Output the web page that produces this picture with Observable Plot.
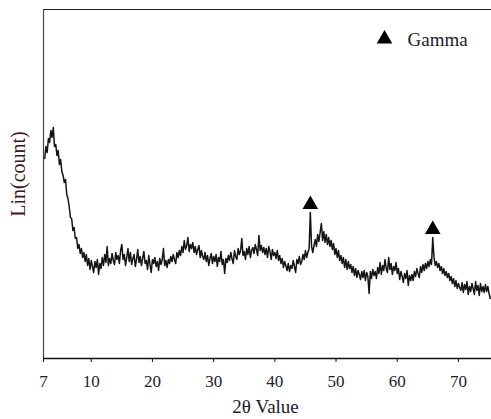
<!DOCTYPE html>
<html>
<head>
<meta charset="utf-8">
<script src="https://cdn.jsdelivr.net/npm/d3@7"></script>
<script src="https://cdn.jsdelivr.net/npm/@observablehq/plot@0.6"></script>
<style>
  html, body { margin: 0; padding: 0; background: #fff; }
  #chart svg, #chart svg text { font-family: "Liberation Serif", "Times New Roman", serif !important; }
</style>
</head>
<body>
<div id="chart"></div>
<script>
// XRD scan: start angle and step of the 2θ grid (degrees)
const scanStart = 2.4;
const scanStep = 0.2;

// Measured intensity (arbitrary Lin counts), one value per step; 10 steps = 2° per row
const counts = [
  200, 212, 206, 220, 216, 228, 221, 231, 212, 214,
  203, 208, 194, 199, 187, 183, 176, 179, 164, 160,
  152, 141, 140, 128, 131, 120, 121, 110, 114, 105,
  110, 101, 106, 97, 104, 93, 100, 89, 98, 92,
  86, 97, 91, 99, 84, 95, 90, 101, 93, 104,
  96, 112, 93, 100, 95, 105, 98, 94, 106, 99,
  103, 95, 108, 114, 99, 104, 93, 101, 110, 97,
  106, 94, 100, 104, 92, 99, 109, 96, 102, 93,
  100, 107, 95, 98, 89, 103, 94, 86, 99, 95,
  101, 92, 97, 88, 100, 94, 99, 110, 93, 98,
  91, 99, 95, 102, 97, 104, 99, 95, 106, 101,
  108, 103, 112, 106, 118, 109, 113, 121, 107, 114,
  110, 116, 106, 112, 104, 109, 113, 101, 108, 102,
  99, 106, 97, 103, 93, 100, 105, 95, 102, 97,
  104, 92, 101, 97, 107, 94, 99, 85, 100, 96,
  103, 98, 106, 100, 95, 108, 102, 99, 110, 104,
  108, 120, 103, 107, 99, 110, 104, 112, 101, 108,
  111, 105, 114, 109, 103, 123, 108, 113, 106, 111,
  104, 110, 101, 112, 107, 99, 109, 103, 106, 100,
  108, 98, 103, 95, 100, 91, 97, 93, 88, 95,
  87, 93, 90, 98, 92, 86, 99, 95, 102, 94,
  97, 104, 99, 108, 101, 106, 110, 146, 112, 106,
  113, 119, 112, 124, 117, 126, 135, 118, 127, 116,
  124, 114, 121, 112, 118, 109, 115, 104, 110, 101,
  108, 98, 103, 95, 101, 91, 99, 89, 97, 90,
  94, 86, 92, 83, 90, 81, 88, 84, 79, 87,
  81, 88, 78, 86, 82, 65, 87, 80, 89, 83,
  87, 80, 91, 85, 96, 84, 93, 88, 99, 90,
  86, 101, 89, 95, 84, 92, 88, 96, 85, 90,
  79, 87, 82, 76, 85, 80, 88, 73, 83, 78,
  84, 78, 87, 82, 90, 85, 81, 92, 86, 94,
  88, 95, 90, 97, 92, 99, 94, 121, 101, 93,
  97, 91, 95, 88, 92, 85, 90, 83, 87, 81,
  85, 78, 82, 75, 80, 72, 78, 70, 75, 71,
  68, 76, 66, 74, 69, 77, 64, 72, 67, 75,
  70, 64, 77, 68, 73, 63, 75, 67, 72, 66,
  74, 67, 72, 65, 60
];

// Gamma phase reflections (2θ)
const gammaPeakAngles = [45.8, 65.8];
const legendLabel = "Gamma";

// Axis setup
const xDomain = [2.2, 75.4];
const yDomain = [0, 349];
const xTicks = [10, 20, 30, 40, 50, 60, 70];
const xOriginLabel = "7";
const xLabel = "2θ Value";
const yLabel = "Lin(count)";

const scan = counts.map((c, i) => ({ angle: +(scanStart + i * scanStep).toFixed(2), count: c }));
const peaks = gammaPeakAngles.map(a => scan.find(d => Math.abs(d.angle - a) < 1e-6));

const ink = "#141414";
const serif = "Liberation Serif";

const chart = Plot.plot({
  width: 491,
  height: 419,
  marginLeft: 43,
  marginRight: 0,
  marginTop: 9,
  marginBottom: 61,
  style: "font-family: 'Liberation Serif', serif; background: #fff; color: #141414;",
  x: { domain: xDomain },
  y: { domain: yDomain, axis: null },
  marks: [
    Plot.line(scan, { x: "angle", y: "count", stroke: ink, strokeWidth: 1.5 }),
    Plot.ruleY([yDomain[1]], { stroke: "#222", strokeWidth: 1 }),
    Plot.ruleX([xDomain[0]], { stroke: "#444", strokeWidth: 1.2 }),
    Plot.ruleY([yDomain[0]], { stroke: "#111", strokeWidth: 1.5 }),
    Plot.axisX([xDomain[0], ...xTicks], {
      anchor: "bottom",
      tickSize: 4,
      tickPadding: 12,
      fontSize: 17,
      fontFamily: serif,
      fill: "#1c1c2a",
      label: null,
      tickFormat: d => (d === xDomain[0] ? xOriginLabel : String(d))
    }),
    // peak markers, above each reflection
    Plot.dot(peaks, { x: "angle", y: "count", dy: -8, symbol: "triangle", r: 5.8, fill: "#000", stroke: "none" }),
    // legend
    Plot.dot([legendLabel], { frameAnchor: "top-right", dx: -107, dy: 29.5, symbol: "triangle", r: 5.8, fill: "#000", stroke: "none" }),
    Plot.text([legendLabel], { frameAnchor: "top-right", dx: -84, dy: 30, textAnchor: "start", lineAnchor: "middle", fontSize: 19, fontFamily: serif, fill: "#1c1c2a" }),
    // axis titles
    Plot.text([xLabel], { frameAnchor: "bottom", dx: -2, dy: 48, textAnchor: "middle", lineAnchor: "middle", fontSize: 19, fontFamily: serif, fill: "#1c1c2a" }),
    Plot.text([yLabel], { frameAnchor: "left", dx: -25, dy: -10, rotate: -90, textAnchor: "middle", lineAnchor: "middle", fontSize: 20, fontFamily: serif, fill: "#3a1818" })
  ]
});

document.getElementById("chart").append(chart);
</script>
</body>
</html>
